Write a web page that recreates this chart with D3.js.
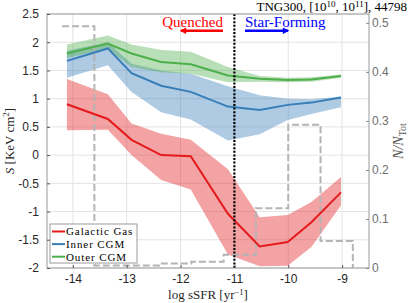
<!DOCTYPE html>
<html>
<head>
<meta charset="utf-8">
<script src="https://cdn.jsdelivr.net/npm/d3@7"></script>
<style>
  body { margin: 0; background: #fff; }
  svg { display: block; }
</style>
</head>
<body>
<script>
// values
const ssfr = [-14.11, -13.35, -12.91, -12.36, -11.81, -11.12, -10.53, -10.01, -9.57, -9.02];

const gasMed = [0.90, 0.64, 0.27, 0.00, -0.02, -1.04, -1.62, -1.54, -1.19, -0.66];
const gasHi  = [1.35, 1.08, 0.56, 0.38, 0.27, -0.25, -1.10, -1.06, -0.83, -0.39];
const gasLo  = [0.44, 0.45, 0.00, -0.44, -0.61, -1.76, -1.97, -1.96, -1.63, -0.89];

const innerMed = [1.67, 1.89, 1.45, 1.23, 1.12, 0.86, 0.80, 0.89, 0.93, 1.02];
const innerHi  = [1.85, 2.00, 1.62, 1.50, 1.44, 1.22, 1.06, 1.00, 0.99, 1.04];
const innerLo  = [1.37, 1.59, 1.12, 0.76, 0.63, 0.26, 0.37, 0.62, 0.73, 0.85];

const outerMed = [1.80, 1.975, 1.80, 1.65, 1.61, 1.41, 1.355, 1.33, 1.34, 1.40];
const outerHi  = [1.96, 2.12, 1.96, 1.86, 1.83, 1.56, 1.40, 1.37, 1.38, 1.43];
const outerLo  = [1.72, 1.88, 1.56, 1.47, 1.44, 1.29, 1.30, 1.29, 1.30, 1.37];

const histEdges = [-14.2, -13.6, -13.0, -12.4, -11.8, -11.2, -10.6, -10.0, -9.4, -8.8];
const histFrac  = [0.493, 0.005, 0.005, 0.009, 0.013, 0.027, 0.122, 0.292, 0.055];

const xTicks = [-14, -13, -12, -11, -10, -9];
const yTicks = [-2, -1.5, -1, -0.5, 0, 0.5, 1, 1.5, 2, 2.5];
const rTicks = [0, 0.1, 0.2, 0.3, 0.4, 0.5];

const seriesNames = ['Galactic Gas', 'Inner CGM', 'Outer CGM'];
const seriesColors = ['#e41a1c', '#377eb8', '#4daf4a'];

const W = 409, H = 303;
const plot = {left: 47, right: 369, top: 14, bottom: 268};
const serif = "'Liberation Serif', 'Times New Roman', serif";
const sans = "'Liberation Sans', Arial, sans-serif";

const svg = d3.select('body').append('svg')
  .attr('width', W)
  .attr('height', H);

const x = d3.scaleLinear().domain([-14.48, -8.5]).range([plot.left, plot.right]);
const y = d3.scaleLinear().domain([-2, 2.5]).range([plot.bottom, plot.top]);
const yR = d3.scaleLinear().domain([0, 0.518]).range([plot.bottom, plot.top]);

// grid
const grid = svg.append('g').attr('stroke', '#e4e4e4').attr('stroke-width', 1);
grid.selectAll('.gx').data(xTicks).enter().append('line')
  .attr('x1', d => x(d)).attr('x2', d => x(d))
  .attr('y1', plot.top).attr('y2', plot.bottom);
grid.selectAll('.gy').data(yTicks).enter().append('line')
  .attr('x1', plot.left).attr('x2', plot.right)
  .attr('y1', d => y(d)).attr('y2', d => y(d));

// bands
const series = [
  {med: gasMed, hi: gasHi, lo: gasLo},
  {med: innerMed, hi: innerHi, lo: innerLo},
  {med: outerMed, hi: outerHi, lo: outerLo}
];

const area = d3.area()
  .x((d, i) => x(ssfr[i]))
  .y0(d => y(d[0]))
  .y1(d => y(d[1]));

series.forEach((s, k) => {
  svg.append('path')
    .datum(s.lo.map((v, i) => [v, s.hi[i]]))
    .attr('d', area)
    .attr('fill', seriesColors[k])
    .attr('fill-opacity', 0.4);
});

// histogram (right axis)
const histPts = histFrac.map((v, i) => [histEdges[i], v]);
histPts.push([histEdges[histEdges.length - 1], 0]);

svg.append('path')
  .datum(histPts)
  .attr('d', d3.line().x(d => x(d[0])).y(d => yR(d[1])).curve(d3.curveStepAfter))
  .attr('fill', 'none')
  .attr('stroke', '#b4b4b4')
  .attr('stroke-width', 2)
  .attr('stroke-dasharray', '7,3');

// median lines
const line = d3.line().x((d, i) => x(ssfr[i])).y(d => y(d));
series.forEach((s, k) => {
  svg.append('path')
    .datum(s.med)
    .attr('d', line)
    .attr('fill', 'none')
    .attr('stroke', seriesColors[k])
    .attr('stroke-width', 2);
});

// quenched / star-forming divider
svg.append('line')
  .attr('x1', x(-11)).attr('x2', x(-11))
  .attr('y1', plot.top).attr('y2', plot.bottom)
  .attr('stroke', '#000')
  .attr('stroke-width', 2.2)
  .attr('stroke-dasharray', '2,1.6');

// frame
svg.append('rect')
  .attr('x', plot.left).attr('y', plot.top)
  .attr('width', plot.right - plot.left)
  .attr('height', plot.bottom - plot.top)
  .attr('fill', 'none')
  .attr('stroke', '#9a9a9a')
  .attr('stroke-width', 1);

// axes
const xAxis = svg.append('g')
  .attr('transform', `translate(0,${plot.bottom})`)
  .call(d3.axisBottom(x).tickValues(xTicks).tickSize(-3).tickPadding(6));

const yAxis = svg.append('g')
  .attr('transform', `translate(${plot.left},0)`)
  .call(d3.axisLeft(y).tickValues(yTicks).tickSize(-3).tickPadding(8));

const rAxis = svg.append('g')
  .attr('transform', `translate(${plot.right},0)`)
  .call(d3.axisRight(yR).tickValues(rTicks).tickSize(-3).tickPadding(3));

[xAxis, yAxis, rAxis].forEach(g => {
  g.select('.domain').remove();
  g.selectAll('text')
    .attr('font-family', sans)
    .attr('font-size', 12)
    .text(d => String(d));
});
xAxis.selectAll('line').attr('stroke', '#555');
yAxis.selectAll('line').attr('stroke', '#555');
xAxis.selectAll('text').attr('fill', '#262626');
yAxis.selectAll('text').attr('fill', '#262626');
rAxis.selectAll('line').attr('stroke', '#888');
rAxis.selectAll('text').attr('fill', '#6e6e6e');

// axis labels
const xl = svg.append('text')
  .attr('x', (plot.left + plot.right) / 2)
  .attr('y', 299)
  .attr('text-anchor', 'middle')
  .attr('font-family', serif)
  .attr('font-size', 13)
  .attr('fill', '#262626');
xl.append('tspan').text('log sSFR [yr');
xl.append('tspan').attr('dy', -4).attr('font-size', 8.5).text('−1');
xl.append('tspan').attr('dy', 4).text(']');

const yl = svg.append('text')
  .attr('transform', `translate(14,${(plot.top + plot.bottom) / 2}) rotate(-90)`)
  .attr('text-anchor', 'middle')
  .attr('font-family', serif)
  .attr('font-size', 13)
  .attr('fill', '#262626');
yl.append('tspan').attr('font-style', 'italic').text('S');
yl.append('tspan').text(' [KeV cm');
yl.append('tspan').attr('dy', -5).attr('font-size', 9).text('2');
yl.append('tspan').attr('dy', 5).text(']');

const rl = svg.append('text')
  .attr('transform', `translate(403,${(plot.top + plot.bottom) / 2}) rotate(-90)`)
  .attr('text-anchor', 'middle')
  .attr('font-family', serif)
  .attr('font-size', 14)
  .attr('fill', '#555');
rl.append('tspan').attr('font-style', 'italic').text('N/N');
rl.append('tspan').attr('dy', 3).attr('font-size', 10).text('Tot');

// title
const title = svg.append('text')
  .attr('x', 407).attr('y', 10.5)
  .attr('text-anchor', 'end')
  .attr('font-family', serif)
  .attr('font-size', 13)
  .attr('fill', '#000');
title.append('tspan').text('TNG300, [10');
title.append('tspan').attr('dy', -4).attr('font-size', 9).text('10');
title.append('tspan').attr('dy', 4).text(', 10');
title.append('tspan').attr('dy', -4).attr('font-size', 9).text('11');
title.append('tspan').attr('dy', 4).text('], 44798');

// quenched / star-forming annotations
svg.append('text')
  .attr('x', 223).attr('y', 26.5)
  .attr('text-anchor', 'end')
  .attr('font-family', serif).attr('font-size', 15)
  .attr('fill', '#ff0000')
  .text('Quenched');
svg.append('text')
  .attr('x', 245).attr('y', 26.5)
  .attr('font-family', serif).attr('font-size', 15)
  .attr('fill', '#0000ff')
  .text('Star-Forming');

const defs = svg.append('defs');
[['arR', '#ff0000'], ['arB', '#0000ff']].forEach(([id, c]) => {
  defs.append('marker')
    .attr('id', id)
    .attr('viewBox', '0 0 10 10')
    .attr('refX', 8).attr('refY', 5)
    .attr('markerWidth', 3).attr('markerHeight', 2.6)
    .attr('orient', 'auto')
    .append('path').attr('d', 'M0,0 L10,5 L0,10 Z').attr('fill', c);
});
svg.append('line')
  .attr('x1', 223).attr('x2', 181).attr('y1', 30.7).attr('y2', 30.7)
  .attr('stroke', '#ff0000').attr('stroke-width', 2.5)
  .attr('marker-end', 'url(#arR)');
svg.append('line')
  .attr('x1', 245).attr('x2', 288).attr('y1', 30.7).attr('y2', 30.7)
  .attr('stroke', '#0000ff').attr('stroke-width', 2.5)
  .attr('marker-end', 'url(#arB)');

// legend
const legend = svg.append('g').attr('transform', 'translate(50,224)');
legend.append('rect')
  .attr('width', 87).attr('height', 39)
  .attr('fill', '#fff')
  .attr('stroke', '#9a9a9a')
  .attr('stroke-width', 1);
seriesNames.forEach((name, i) => {
  const row = legend.append('g').attr('transform', `translate(0,${7.5 + i * 12.6})`);
  row.append('line')
    .attr('x1', 2).attr('x2', 15)
    .attr('stroke', seriesColors[i]).attr('stroke-width', 2);
  row.append('text')
    .attr('x', 16).attr('y', 3.8)
    .attr('font-family', serif).attr('font-size', 11)
    .attr('letter-spacing', 0.9)
    .attr('fill', '#000')
    .text(name);
});
</script>
</body>
</html>
